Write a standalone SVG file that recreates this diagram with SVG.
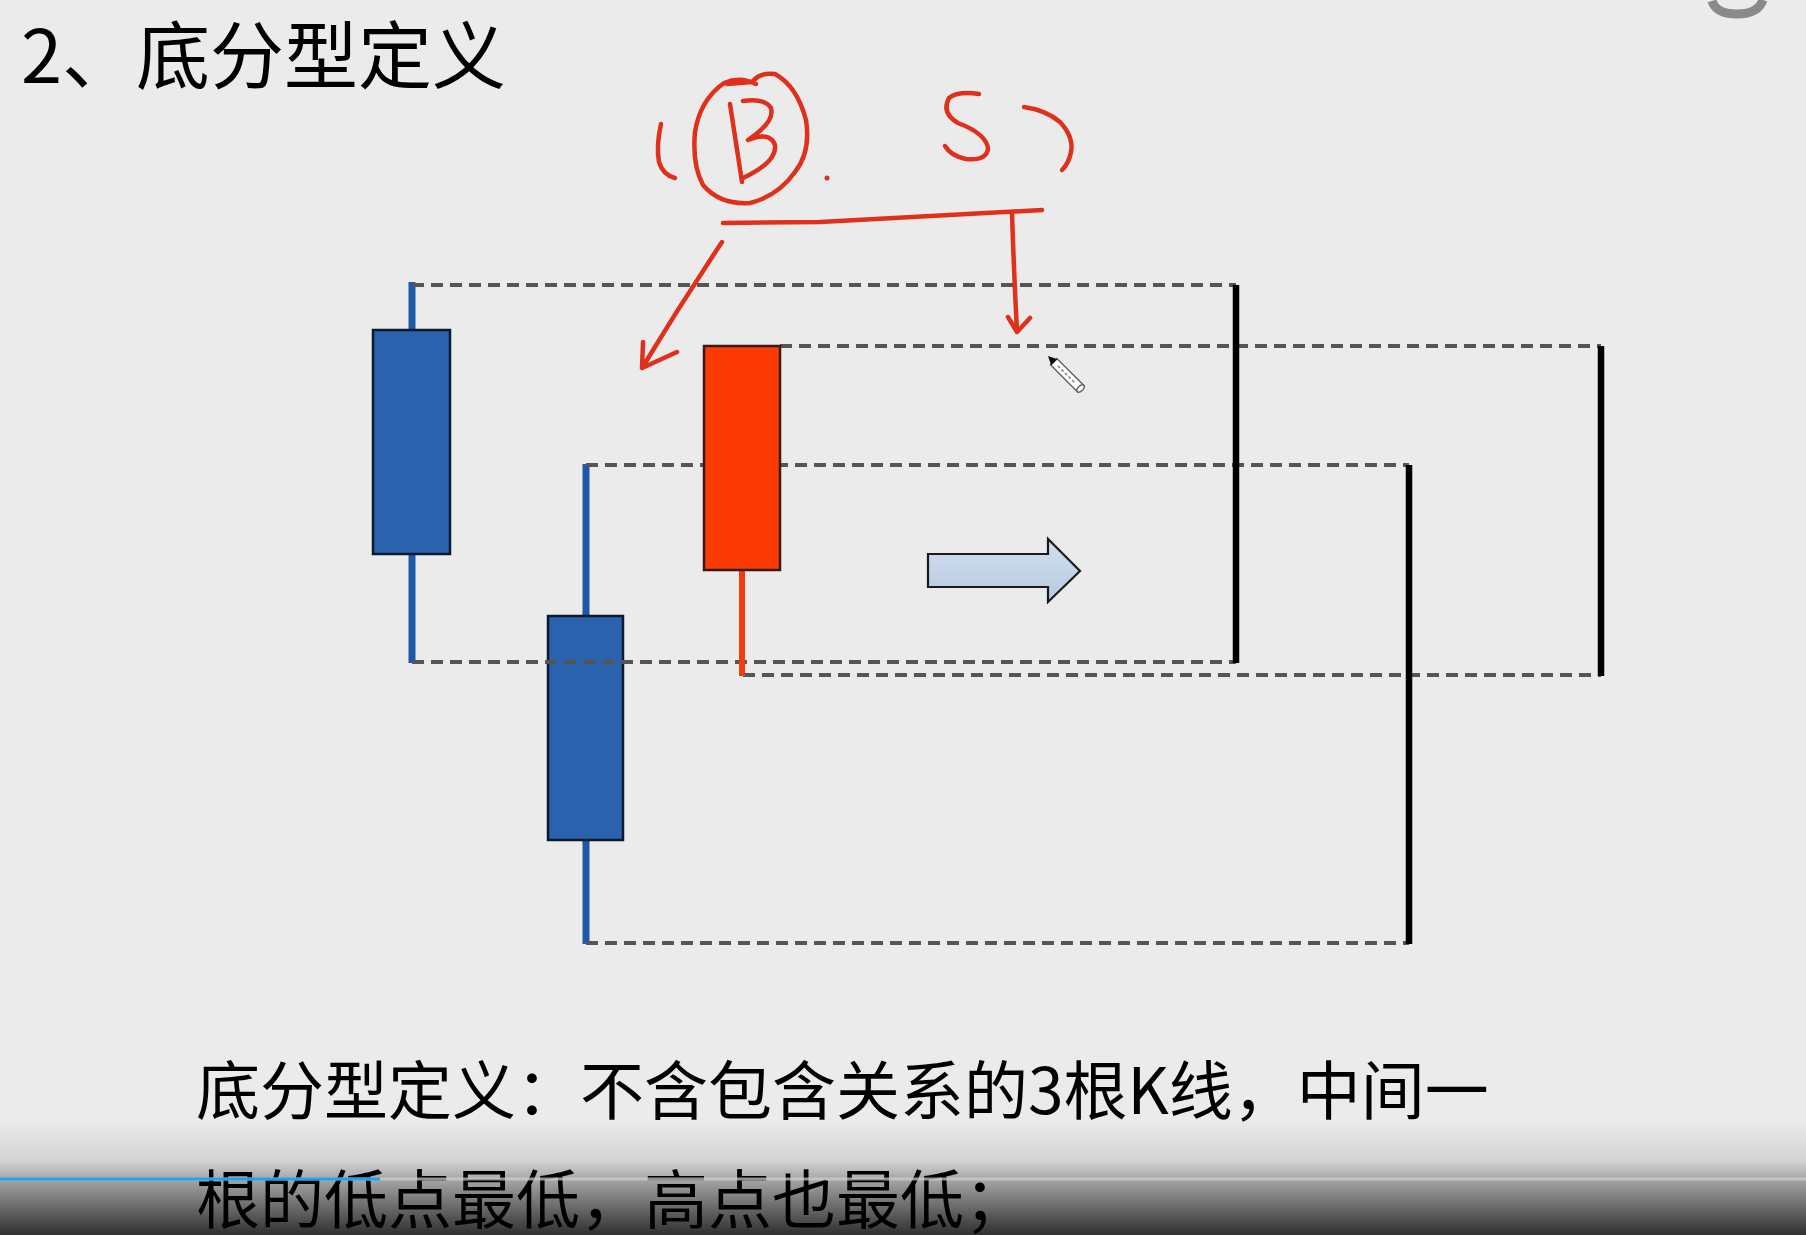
<svg xmlns="http://www.w3.org/2000/svg" width="1806" height="1235" viewBox="0 0 1806 1235">
  <defs>
    <style>
      .cjk { font-family: "Noto Sans CJK SC", "Noto Sans", sans-serif; fill: #000; }
      .dash { stroke: #555; stroke-width: 4; stroke-dasharray: 12 7; fill: none; }
      .bluebody { fill: #2a62ad; stroke: #0c1a2e; stroke-width: 2.5; }
      .bluewick { stroke: #1d5aa6; stroke-width: 7; fill: none; }
      .redbody { fill: #fb3a05; stroke: #3a1a10; stroke-width: 2.5; }
      .redwick { stroke: #f03c10; stroke-width: 6; fill: none; }
      .bar { stroke: #000; stroke-width: 6.5; fill: none; }
      .ink { stroke: #e0301c; stroke-width: 4.5; fill: none; stroke-linecap: round; stroke-linejoin: round; }
    </style>
    <linearGradient id="arrowFill" x1="0" y1="0" x2="0" y2="1">
      <stop offset="0" stop-color="#d3e0ef"/>
      <stop offset="1" stop-color="#b6c9e0"/>
    </linearGradient>
    <linearGradient id="shade" x1="0" y1="1120" x2="0" y2="1235" gradientUnits="userSpaceOnUse">
      <stop offset="0" stop-color="#000" stop-opacity="0"/>
      <stop offset="0.35" stop-color="#000" stop-opacity="0.1"/>
      <stop offset="0.52" stop-color="#000" stop-opacity="0.3"/>
      <stop offset="1" stop-color="#000" stop-opacity="0.8"/>
    </linearGradient>
  </defs>

  <rect width="1806" height="1235" fill="#ebebeb"/>

  <!-- watermark remnant top right -->
  <path d="M1712,1 Q1716,14 1737,14 Q1758,14 1763,0" stroke="#8a8a8a" stroke-width="9" fill="none"/>

  <g id="title">
    <text class="cjk" x="21" y="83" font-size="74">2、底分型定义</text>
  </g>

  <g id="candle1">
    <line class="bluewick" x1="412" y1="282" x2="412" y2="663"/>
    <rect class="bluebody" x="373" y="330" width="77" height="224"/>
  </g>

  <g id="candle2">
    <line class="bluewick" x1="586" y1="464" x2="586" y2="944"/>
    <rect class="bluebody" x="548" y="616" width="75" height="224"/>
  </g>

  <g id="connectors">
    <line class="dash" x1="412" y1="285" x2="1236" y2="285"/>
    <line class="dash" x1="412" y1="662" x2="1236" y2="662"/>
    <line class="dash" x1="586" y1="465" x2="1409" y2="465"/>
    <line class="dash" x1="586" y1="943" x2="1409" y2="943"/>
    <line class="dash" x1="780" y1="346" x2="1601" y2="346"/>
    <line class="dash" x1="743" y1="675" x2="1601" y2="675"/>
  </g>

  <g id="candle3">
    <line class="redwick" x1="742" y1="569" x2="742" y2="676"/>
    <rect class="redbody" x="704" y="346" width="76" height="224"/>
  </g>

  <g id="range1"><line class="bar" x1="1236" y1="285" x2="1236" y2="663"/></g>
  <g id="range2"><line class="bar" x1="1409" y1="465" x2="1409" y2="944"/></g>
  <g id="range3"><line class="bar" x1="1601" y1="346" x2="1601" y2="676"/></g>

  <g id="block-arrow">
    <polygon points="928,554 1048,554 1048,539 1080,571 1048,602 1048,587 928,587" fill="url(#arrowFill)" stroke="#1a1a1a" stroke-width="2.2" stroke-linejoin="miter"/>
  </g>

  <g id="annotation">
    <path class="ink" d="M661,124 Q656,146 659,162 Q663,175 675,178"/>
    <path class="ink" d="M727,84 L752,82 M752,82 Q760,72 775,74 Q797,86 806,120 Q811,152 795,172 Q778,196 750,203 Q720,205 703,185 Q692,165 695,132 Q700,100 724,83 Q740,76 756,84"/>
    <path class="ink" d="M730,104 L742,182"/>
    <path class="ink" d="M743,101 Q765,98 771,108 Q775,122 748,140 Q770,131 775,145 Q777,162 743,178"/>
    <circle cx="827" cy="178" r="2.5" fill="#e0301c"/>
    <path class="ink" d="M979,94 Q958,91 949,98 Q941,113 958,123 Q987,134 988,149 Q986,161 966,159 Q951,156 945,146"/>
    <path class="ink" d="M1024,107 Q1046,110 1060,122 Q1074,137 1071,152 Q1069,163 1062,170"/>
    <path class="ink" d="M723,223 L820,222 L1042,210"/>
    <path class="ink" d="M1012,213 Q1014,275 1017,332 M1008,317 L1017,332 L1030,318"/>
    <path class="ink" d="M722,242 Q680,305 642,368 M643,342 L642,368 L677,352"/>
  </g>

  <g id="cursor">
    <g transform="translate(1048,356) rotate(45)">
      <rect x="8" y="-4.5" width="38" height="9" fill="#fff" stroke="#666" stroke-width="1.5"/>
      <path d="M0,0 L9,-4.5 L9,4.5 Z" fill="#111"/>
      <line x1="14" y1="0" x2="38" y2="0" stroke="#999" stroke-width="2" stroke-dasharray="3 2"/>
      <ellipse cx="46" cy="0" rx="2.5" ry="4.5" fill="#fff" stroke="#666" stroke-width="1.5"/>
    </g>
  </g>

  <g id="definition">
    <text class="cjk" x="196" y="1114" font-size="64">底分型定义：不含包含关系的3根K线，中间一</text>
    <text class="cjk" x="196" y="1223" font-size="64">根的低点最低，高点也最低；</text>
  </g>

  <!-- player overlay -->
  <rect x="0" y="1120" width="1806" height="115" fill="url(#shade)"/>
  <line x1="0" y1="1179" x2="1806" y2="1179" stroke="#cfcfcf" stroke-opacity="0.7" stroke-width="3"/>
  <line x1="0" y1="1179" x2="380" y2="1179" stroke="#1aa3f0" stroke-width="3"/>
</svg>
